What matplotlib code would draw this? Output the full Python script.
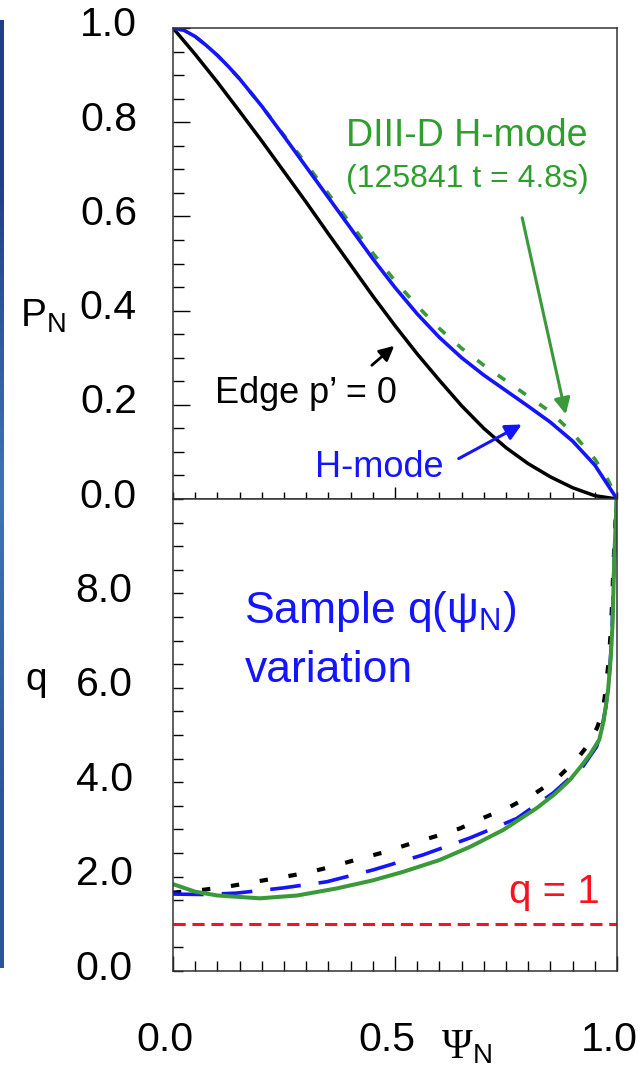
import numpy as np
import matplotlib
matplotlib.use("Agg")
import matplotlib.pyplot as plt
import matplotlib.transforms as mtransforms
from matplotlib.colors import LinearSegmentedColormap
from matplotlib.ticker import MultipleLocator, FixedLocator

plt.rcParams["font.family"] = ["Liberation Sans", "DejaVu Sans"]

BLUE = "#1414ff"
GREEN = "#3a9a3a"
GREEN_TXT = "#2e9e2e"
RED = "#ff1020"

# ---------------------------------------------------------------------------
# Data: pressure profiles (top panel)
# ---------------------------------------------------------------------------
psi_p = [0.0, 0.05, 0.1, 0.15, 0.2, 0.25, 0.3, 0.35, 0.4, 0.45, 0.5,
         0.55, 0.6, 0.65, 0.7, 0.75, 0.8, 0.85, 0.9, 0.95, 1.0]
p_edge0 = [1.0, 0.944, 0.885, 0.823, 0.76, 0.695, 0.63, 0.563, 0.497, 0.431, 0.368,
           0.308, 0.252, 0.198, 0.15, 0.109, 0.075, 0.047, 0.024, 0.007, 0.0]

psi_h = [0.0, 0.025, 0.05, 0.075, 0.1, 0.125, 0.15, 0.2, 0.25, 0.3, 0.35, 0.4,
         0.45, 0.5, 0.55, 0.6, 0.65, 0.7, 0.75, 0.8, 0.85, 0.9, 0.95, 1.0]
p_hmode = [1.0, 0.995, 0.982, 0.963, 0.942, 0.918, 0.892, 0.834, 0.77, 0.705,
           0.64, 0.575, 0.51, 0.449, 0.393, 0.343, 0.3, 0.263, 0.23, 0.197,
           0.163, 0.123, 0.072, 0.0]

psi_d3d = [0.0, 0.025, 0.05, 0.075, 0.1, 0.125, 0.15, 0.2, 0.25, 0.3, 0.35, 0.4,
           0.45, 0.5, 0.55, 0.6, 0.65, 0.7, 0.75, 0.8, 0.85, 0.9, 0.95, 0.98, 1.0]
p_d3d = [1.0, 0.995, 0.982, 0.963, 0.942, 0.918, 0.892, 0.834, 0.772, 0.712,
         0.648, 0.584, 0.522, 0.463, 0.41, 0.362, 0.32, 0.284, 0.251, 0.218,
         0.185, 0.14, 0.085, 0.04, 0.0]

# ---------------------------------------------------------------------------
# Data: q profiles (bottom panel)
# ---------------------------------------------------------------------------
psi_q_green = [0.0, 0.05, 0.1, 0.196, 0.28, 0.369, 0.45, 0.518, 0.6, 0.669, 0.744,
               0.819, 0.86, 0.894, 0.92, 0.94, 0.96, 0.97, 0.98, 0.986, 0.99,
               0.994, 1.0]
q_green = [1.84, 1.68, 1.6, 1.54, 1.6, 1.75, 1.92, 2.10, 2.35, 2.63, 2.99,
           3.45, 3.75, 4.05, 4.35, 4.6, 4.9, 5.3, 5.95, 6.65, 7.36,
           8.77, 10.2]

psi_q_black = [0.0, 0.068, 0.124, 0.185, 0.241, 0.301, 0.357, 0.417, 0.473, 0.529,
               0.59, 0.646, 0.703, 0.759, 0.815, 0.864, 0.909, 0.935, 0.955, 0.968,
               0.975, 0.982, 0.987, 0.993, 1.0]
q_black = [1.66, 1.72, 1.79, 1.89, 1.98, 2.08, 2.21, 2.37, 2.51, 2.68,
           2.85, 3.02, 3.26, 3.48, 3.76, 4.07, 4.48, 4.79, 5.15, 5.5,
           6.0, 6.65, 7.35, 8.8, 10.2]

psi_q_blue = [0.0, 0.07, 0.143, 0.248, 0.346, 0.45, 0.563, 0.669, 0.774, 0.856,
              0.923, 0.954, 0.965, 0.975, 0.982, 0.988, 0.994, 1.0]
q_blue = [1.63, 1.62, 1.65, 1.76, 1.89, 2.14, 2.46, 2.82, 3.23, 3.77,
          4.33, 4.75, 5.1, 5.6, 6.2, 7.0, 8.8, 10.2]

Q_REF = 1.0

p_ticks = [0.0, 0.2, 0.4, 0.6, 0.8, 1.0]
q_ticks = [0.0, 2.0, 4.0, 6.0, 8.0]
psi_ticks = [0.0, 0.5, 1.0]

# ---------------------------------------------------------------------------
# Figure
# ---------------------------------------------------------------------------
W, H = 642, 1070
fig = plt.figure(figsize=(W / 100, H / 100), dpi=100)

# sliver of the neighbouring image on the far left
strip = fig.add_axes([0, 1 - 968 / H, 4 / W, (968 - 20) / H])
grad = np.array([[0.0], [0.5], [1.0]])
cm_strip = LinearSegmentedColormap.from_list("s", ["#1f3f86", "#3d76b4", "#2a5697"])
strip.imshow(grad, aspect="auto", cmap=cm_strip, interpolation="bilinear")
strip.axis("off")

ax1 = fig.add_axes([173 / W, 1 - 499 / H, 444 / W, 471 / H])
ax2 = fig.add_axes([173 / W, 1 - 971 / H, 444 / W, 472 / H])

for ax in (ax1, ax2):
    for s in ax.spines.values():
        s.set_color("#333333")
        s.set_linewidth(1.1)
    ax.set_xlim(0, 1)

# --- top panel -------------------------------------------------------------
ax1.plot(psi_p, p_edge0, color="black", lw=2.5, solid_capstyle="round")
ax1.plot(psi_d3d, p_d3d, color=GREEN, lw=2.6, linestyle=(0, (2.5, 4.5)))
ax1.plot(psi_h, p_hmode, color=BLUE, lw=2.6, solid_capstyle="round")
ax1.set_ylim(0, 1.0)

ax1.yaxis.set_major_locator(FixedLocator(p_ticks))
ax1.set_yticklabels([f"{v:.1f}" for v in p_ticks])
ax1.yaxis.set_minor_locator(MultipleLocator(0.05))
ax1.xaxis.set_major_locator(FixedLocator([0.5]))
ax1.xaxis.set_minor_locator(MultipleLocator(0.05))
ax1.tick_params(axis="y", which="major", direction="in", length=12, width=1.0,
                labelsize=29.5, pad=26, right=False)
ax1.tick_params(axis="y", which="minor", direction="in", length=8, width=1.0, right=False)
ax1.tick_params(axis="x", which="major", direction="in", length=9, width=1.0,
                labelbottom=False, top=False)
ax1.tick_params(axis="x", which="minor", direction="in", length=5, width=1.0, top=False)

ax1.text(0.661, 0.75, "DIII-D H-mode", color=GREEN_TXT, fontsize=27,
         ha="center", va="baseline")
ax1.text(0.663, 0.663, "(125841 t = 4.8s)", color=GREEN_TXT, fontsize=23,
         ha="center", va="baseline")
ax1.text(0.299, 0.204, "Edge p\u2019 = 0", color="black", fontsize=26,
         ha="center", va="baseline")
ax1.text(0.465, 0.047, "H-mode", color=BLUE, fontsize=26,
         ha="center", va="baseline")

ax1.annotate("", xy=(0.886, 0.174), xytext=(0.785, 0.603),
             arrowprops=dict(arrowstyle="-|>", color=GREEN, lw=2.2, mutation_scale=24))
ax1.annotate("", xy=(0.791, 0.161), xytext=(0.638, 0.083),
             arrowprops=dict(arrowstyle="-|>", color=BLUE, lw=2.2, mutation_scale=24))
ax1.annotate("", xy=(0.503, 0.329), xytext=(0.443, 0.280),
             arrowprops=dict(arrowstyle="-|>", color="black", lw=2.0, mutation_scale=22))

# --- bottom panel ----------------------------------------------------------
ax2.axhline(Q_REF, color=RED, lw=2.2, linestyle=(0, (4, 2.2)))
ax2.plot(psi_q_black, q_black, color="black", lw=3.0, linestyle=(0, (2.0, 5.0)))
ax2.plot(psi_q_blue, q_blue, color=BLUE, lw=2.6, linestyle=(0, (8.5, 5)))
ax2.plot(psi_q_green, q_green, color=GREEN, lw=2.9)
ax2.set_ylim(0, 10)

ax2.yaxis.set_major_locator(FixedLocator(q_ticks))
ax2.set_yticklabels([f"{v:.1f}" for v in q_ticks])
ax2.yaxis.set_minor_locator(MultipleLocator(0.5))
ax2.xaxis.set_major_locator(FixedLocator(psi_ticks))
ax2.set_xticklabels([f"{v:.1f}" for v in psi_ticks])
ax2.xaxis.set_minor_locator(MultipleLocator(0.05))
ax2.tick_params(axis="y", which="major", direction="in", length=7, width=1.0,
                labelsize=29.5, pad=29, right=False)
ax2.tick_params(axis="y", which="minor", direction="in", length=7, width=1.0, right=False)
ax2.tick_params(axis="x", which="major", direction="in", length=11, width=1.0,
                labelsize=29.5, pad=36, top=False)
ax2.tick_params(axis="x", which="minor", direction="in", length=7, width=1.0, top=False)

ax2.text(0.161, 7.37, r"Sample q($\mathregular{\psi_N}$)", color=BLUE, fontsize=32,
         ha="left", va="baseline")
ax2.text(0.161, 6.12, "variation", color=BLUE, fontsize=32, ha="left", va="baseline")
ax2.text(0.858, 1.44, "q = 1", color=RED, fontsize=29, ha="center", va="baseline")

# nudge tick labels the way the original sits them
up = mtransforms.ScaledTranslation(0, 6.5 / 100, fig.dpi_scale_trans)
for ax in (ax1, ax2):
    for lab in ax.get_yticklabels():
        lab.set_transform(lab.get_transform() + up)
left = mtransforms.ScaledTranslation(-8 / 100, 0, fig.dpi_scale_trans)
for lab in ax2.get_xticklabels():
    lab.set_transform(lab.get_transform() + left)

# axis labels
fig.text(20 / W, 1 - 327 / H, r"$\mathregular{P_N}$", fontsize=28, va="baseline")
fig.text(25 / W, 1 - 690 / H, "q", fontsize=28, va="baseline")
fig.text(442 / W, 1 - 1058 / H, "\u03a8", fontsize=30, family="Liberation Serif",
         va="baseline")
fig.text(473 / W, 1 - 1063 / H, "N", fontsize=20, va="baseline")

fig.savefig("out.png", dpi=100)
